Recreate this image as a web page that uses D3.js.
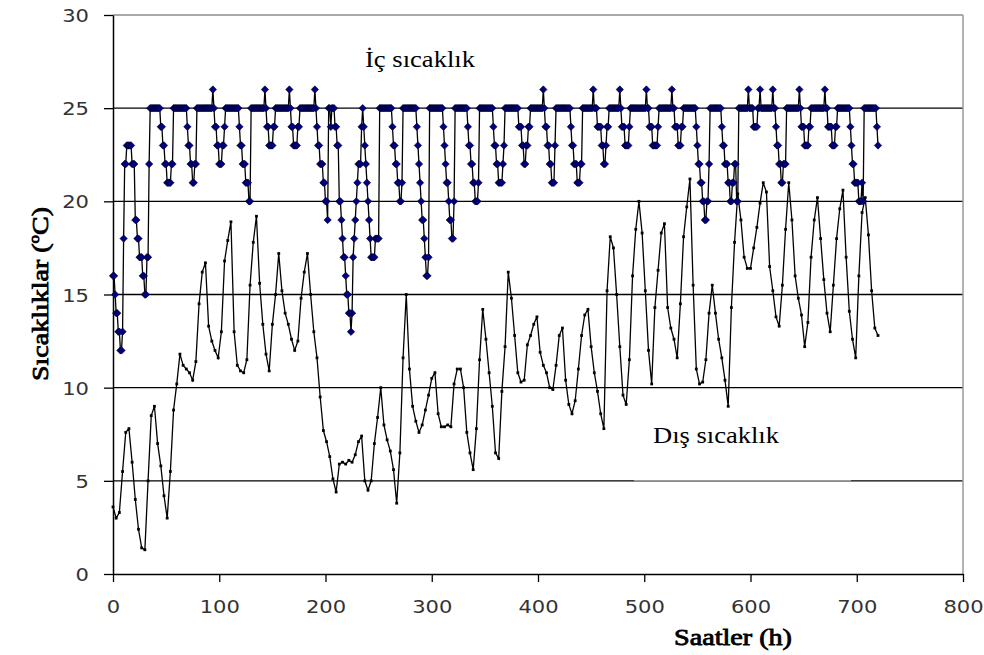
<!DOCTYPE html>
<html><head><meta charset="utf-8">
<script src="https://cdn.jsdelivr.net/npm/d3@7/dist/d3.min.js"></script>
<style>body{margin:0;background:#fff}svg{display:block}</style>
</head><body>
<svg id="chart" width="984" height="655"></svg>
<script>
// ---------- data ----------
const xTicks = [0, 100, 200, 300, 400, 500, 600, 700, 800];
const yTicks = [0, 5, 10, 15, 20, 25, 30];
const xAxisTitle = "Saatler (h)";
const yAxisTitle = "Sıcaklıklar (";
const insideLabel = "İç sıcaklık";
const outsideLabel = "Dış sıcaklık";

// outdoor temperature, one reading every 3 hours (h = 0, 3, ..., 720)
const outdoorStepHours = 3;
const outdoorTemp = [
3.6,3.0,3.3,5.5,7.6,7.8,6.0,4.0,2.4,1.4,1.3,
5.0,8.5,9.0,7.0,5.8,4.2,3.0,5.5,8.8,10.2,
11.8,11.2,11.0,10.8,10.4,11.4,14.5,16.2,16.7,13.3,
12.5,12.0,11.6,13.0,16.8,17.9,18.9,13.0,11.2,10.9,
10.8,11.5,15.5,17.8,19.2,15.6,13.4,11.8,10.9,13.4,
15.0,17.2,15.2,14.0,13.4,12.6,12.0,12.5,14.8,16.2,
17.2,15.0,13.0,11.6,9.5,7.7,7.1,6.3,5.1,4.4,
5.9,6.0,5.9,6.1,6.0,6.4,7.1,7.4,5.0,4.5,
5.0,7.0,8.4,10.0,8.0,7.2,6.6,5.6,3.8,6.5,
11.6,15.0,11.0,9.0,8.2,7.6,8.0,8.8,9.6,10.5,
10.8,8.6,7.9,7.9,8.0,7.9,10.2,11.0,11.0,10.0,
7.6,6.5,5.6,7.8,11.5,14.2,12.6,10.8,9.0,6.5,
6.2,9.8,12.2,16.2,14.8,12.8,10.8,10.3,10.4,12.3,
12.8,13.4,13.8,11.9,11.2,10.8,10.0,9.9,11.2,12.8,
13.2,10.4,9.1,8.6,9.3,11.0,12.8,13.9,14.2,12.2,
10.8,9.8,8.6,7.8,15.2,18.1,17.5,15.0,12.2,9.6,
9.1,11.5,16.0,18.5,20.0,18.3,15.2,12.0,10.2,14.3,
16.3,18.3,18.8,14.3,13.2,12.6,11.6,14.5,18.1,19.7,
21.2,15.5,11.0,10.2,10.3,11.5,14.0,15.5,14.0,12.6,
11.6,10.4,9.0,14.3,17.8,20.4,19.0,17.0,16.4,16.4,
17.5,18.6,19.9,21.0,20.5,16.5,15.2,13.8,13.3,15.5,
18.5,21.0,19.0,16.0,14.8,13.9,12.2,13.5,17.0,19.0,
20.2,18.0,15.8,14.0,13.0,15.5,18.0,19.6,20.6,17.0,
14.1,12.6,11.6,16.0,19.4,20.2,18.2,15.2,13.2,12.8
];

// indoor temperature, hourly (h = 0 ... 720)
const indoorTemp = [
16,16,15,14,14,13,13,12,12,13,18,22,22,23,23,23,23,23,22,22,22,19,19,18,18,17,17,17,16,16,15,15,17,17,22,25,
25,25,25,25,25,25,25,25,25,
24,24,23,23,22,22,21,21,21,21,22,22,25,
25,25,25,25,25,25,25,25,25,25,25,25,
24,23,23,22,22,21,21,22,22,25,
25,25,25,25,25,25,25,25,25,25,25,25,25,25,
26,
25,24,24,23,23,22,22,22,23,23,24,25,
25,25,25,25,25,25,25,25,25,25,25,25,
24,23,23,22,22,22,21,21,21,20,20,25,
25,25,25,25,25,25,25,25,25,25,25,25,
26,
25,24,24,23,23,23,23,24,24,25,
25,25,25,25,25,25,25,25,25,25,25,25,
26,
25,24,24,23,23,23,23,24,24,25,
25,25,25,25,25,25,25,25,25,25,25,25,25,
26,
25,24,23,23,22,22,22,21,21,20,20,19,25,
25,24,25,25,25,24,24,23,23,
20,20,19,18,17,17,16,15,15,14,14,13,14,17,18,19,20,21,22,22,22,24,25,
24,23,22,21,20,19,18,17,17,17,17,18,18,18,18,25,
25,25,25,25,25,25,25,25,25,25,25,
24,23,23,22,22,21,21,20,20,21,25,
25,25,25,25,25,25,25,25,25,25,25,25,
24,23,22,21,20,19,19,18,17,16,16,17,25,
25,25,25,25,25,25,25,25,25,25,25,25,
24,23,22,21,21,20,19,19,18,18,20,25,
25,25,25,25,25,25,25,25,25,25,25,
24,23,23,22,22,21,21,20,20,20,21,25,
25,25,25,25,25,25,25,25,25,25,25,25,
24,23,23,22,22,21,21,21,21,22,23,25,
25,25,25,25,25,25,25,25,25,25,25,25,
24,24,24,23,23,22,22,23,23,24,24,25,
25,25,25,25,25,25,25,25,25,25,25,
26,
25,24,24,23,23,22,22,21,21,21,23,25,
25,25,25,25,25,25,25,25,25,25,25,25,25,
24,23,23,22,22,22,21,21,21,22,22,25,
25,25,25,25,25,25,25,25,25,
26,
25,25,25,24,24,24,24,23,23,22,22,23,24,24,25,
25,25,25,25,25,25,25,25,25,
26,
25,24,24,24,23,23,23,23,24,25,
25,25,25,25,25,25,25,25,25,25,25,25,25,25,
26,
25,25,24,24,24,23,23,23,23,23,24,25,
25,25,25,25,25,25,25,25,25,25,25,
26,
25,25,24,24,24,23,23,23,24,24,25,
25,25,25,25,25,25,25,25,25,25,
25,24,23,22,22,21,21,20,20,19,19,20,20,22,25,
25,25,25,25,25,25,25,25,25,25,
24,23,23,22,22,22,21,21,20,20,21,21,22,22,20,20,25,
25,25,25,25,25,25,25,25,
26,
25,25,25,25,
24,24,24,24,25,25,
26,
25,25,25,25,25,25,25,25,25,25,25,
26,
25,25,24,23,23,22,22,21,21,22,22,22,25,
25,25,25,25,25,25,25,25,25,25,25,
26,
25,24,24,24,23,23,23,23,24,24,25,
25,25,25,25,25,25,25,25,25,25,25,25,
26,
25,25,24,24,24,24,23,23,23,24,24,25,
25,25,25,25,25,25,25,25,25,25,25,
24,23,22,22,21,21,21,21,20,20,20,21,20,25,
25,25,25,25,25,25,25,25,25,25,25,
24,23
];

// ---------- chart ----------
const svg = d3.select("#chart");
const L = 113, R = 963, T = 15, B = 574;
const x = d3.scaleLinear().domain([0, 800]).range([L, R]);
const y = d3.scaleLinear().domain([0, 30]).range([B, T]);
const stretch = 1.17;
const serif = "'Liberation Serif', 'Times New Roman', serif";

// gridlines
svg.append("g").selectAll("line").data(yTicks.filter(v => v > 0 && v < 30)).join("line")
  .attr("x1", L).attr("x2", R).attr("y1", d => y(d)).attr("y2", d => y(d))
  .attr("stroke", "#000").attr("stroke-width", 1.4);
// top and right frame (grey)
svg.append("line").attr("x1", L).attr("x2", R).attr("y1", y(30)).attr("y2", y(30))
  .attr("stroke", "#8c8c8c").attr("stroke-width", 1.5);
svg.append("line").attr("x1", R).attr("x2", R).attr("y1", T).attr("y2", B)
  .attr("stroke", "#9a9a9a").attr("stroke-width", 1.5);

// white text box for outside label
svg.append("rect").attr("x", 634).attr("y", 410).attr("width", 217).attr("height", 70.5).attr("fill", "#fff");
svg.append("line").attr("x1", 634).attr("x2", 851).attr("y1", y(5)).attr("y2", y(5))
  .attr("stroke", "#9a9a9a").attr("stroke-width", 1);

// axes
const xAxis = svg.append("g").attr("transform", `translate(0,${B})`)
  .call(d3.axisBottom(x).tickValues(xTicks).tickSize(8).tickSizeOuter(0));
const yAxis = svg.append("g").attr("transform", `translate(${L},0)`)
  .call(d3.axisLeft(y).tickValues(yTicks).tickSize(9).tickSizeOuter(0));
[xAxis, yAxis].forEach(g => {
  g.select(".domain").attr("stroke", "#000").attr("stroke-width", 1.5);
  g.selectAll(".tick line").attr("stroke", "#000").attr("stroke-width", 1.3);
  g.selectAll(".tick text").attr("font-family", "DejaVu Sans").attr("font-size", 18)
    .attr("fill", "#333");
});
xAxis.selectAll(".tick text").attr("y", 39).attr("dy", 0)
  .attr("transform", `scale(${stretch},1)`);
yAxis.selectAll(".tick text").attr("x", -24 / stretch).attr("dy", 0).attr("y", 6.5)
  .attr("transform", `scale(${stretch},1)`);

// outdoor series
const outPts = outdoorTemp.map((v, i) => [i * outdoorStepHours, v]);
svg.append("path").datum(outPts)
  .attr("d", d3.line().x(d => x(d[0])).y(d => y(d[1])))
  .attr("fill", "none").attr("stroke", "#000").attr("stroke-width", 1.3);
svg.append("g").selectAll("rect").data(outPts).join("rect")
  .attr("x", d => x(d[0]) - 1.4).attr("y", d => y(d[1]) - 1.4)
  .attr("width", 2.8).attr("height", 2.8).attr("fill", "#000");

// indoor series
const inPts = indoorTemp.map((v, i) => [i, v]);
svg.append("path").datum(inPts)
  .attr("d", d3.line().x(d => x(d[0])).y(d => y(d[1])))
  .attr("fill", "none").attr("stroke", "#000").attr("stroke-width", 1.3);
const diamond = "M0,-3.7L3.7,0L0,3.7L-3.7,0Z";
svg.append("g").selectAll("path").data(inPts).join("path")
  .attr("d", diamond)
  .attr("transform", d => `translate(${x(d[0])},${y(d[1])})`)
  .attr("fill", "#000080").attr("stroke", "#000022").attr("stroke-width", 0.6);

// labels
function label(txt, px, py, size, len, bold) {
  const t = svg.append("text").attr("x", px).attr("y", py)
    .attr("font-family", serif).attr("font-size", size)
    .attr("textLength", len).attr("lengthAdjust", "spacingAndGlyphs")
    .attr("fill", "#000").text(txt);
  if (bold) t.attr("stroke", "#000").attr("stroke-width", 0.8);
  return t;
}
label(insideLabel, 365, 67, 22.5, 110, false);
label(outsideLabel, 653, 443, 22.5, 126, false);
label(xAxisTitle, 674, 645, 22.5, 118, true);

const yt = svg.append("text").attr("transform", "translate(48,294) rotate(-90)")
  .attr("text-anchor", "middle").attr("font-family", serif)
  .attr("font-size", 23).attr("fill", "#000")
  .attr("stroke", "#000").attr("stroke-width", 0.8)
  .attr("textLength", 174).attr("lengthAdjust", "spacingAndGlyphs");
yt.append("tspan").text(yAxisTitle);
yt.append("tspan").attr("font-size", 14).attr("dy", -9).text("o");
yt.append("tspan").attr("dy", 9).text("C)");
</script>
</body></html>
